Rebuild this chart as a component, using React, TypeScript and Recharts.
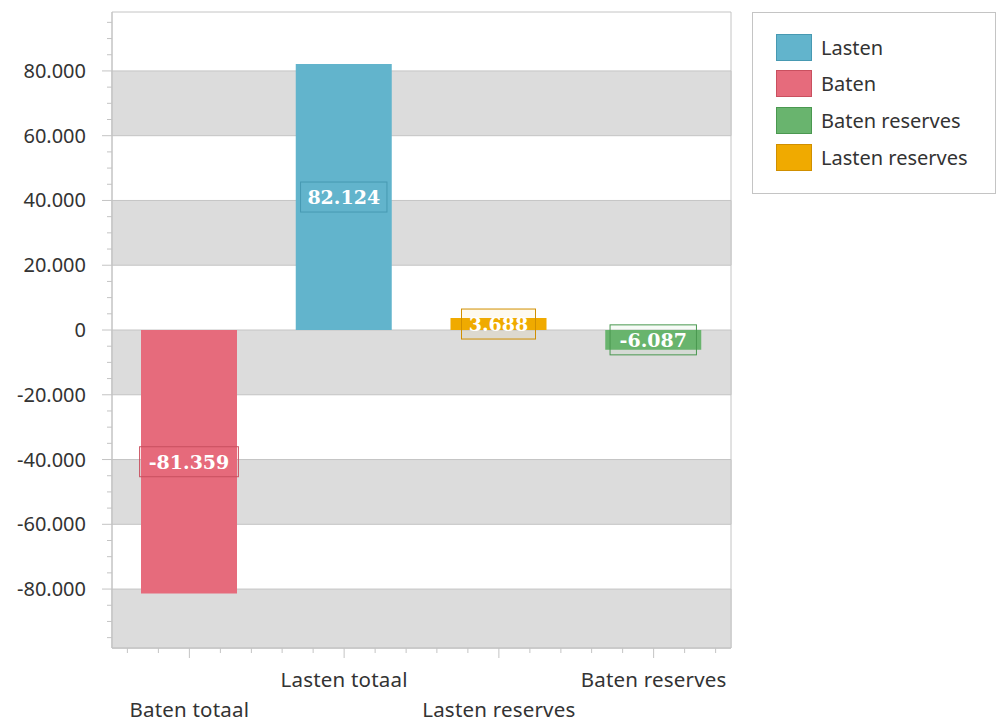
import React from "react";
import { BarChart, Bar, XAxis, YAxis, ReferenceArea, LabelList } from "recharts";

const CATEGORIES = ["Baten totaal", "Lasten totaal", "Lasten reserves", "Baten reserves"];
const LASTEN = [null, 82124, null, null];
const BATEN = [-81359, null, null, null];
const BATEN_RESERVES = [null, null, null, -6087];
const LASTEN_RESERVES = [null, null, 3688, null];

const MAJOR_TICKS = [-80000, -60000, -40000, -20000, 0, 20000, 40000, 60000, 80000];
const GRAY_BANDS = [
  [60000, 80000],
  [20000, 40000],
  [-20000, 0],
  [-60000, -40000],
  [-98200, -80000],
];
const Y_DOMAIN = [-98200, 98200];

const SERIES = [
  { key: "lasten", name: "Lasten", fill: "#62b4cc", stroke: "#4799b2" },
  { key: "baten", name: "Baten", fill: "#e66b7c", stroke: "#c9505f" },
  { key: "batenReserves", name: "Baten reserves", fill: "#69b46e", stroke: "#4a9850" },
  { key: "lastenReserves", name: "Lasten reserves", fill: "#f0aa00", stroke: "#d08f00" },
];

const data = CATEGORIES.map((c, i) => ({
  name: c,
  lasten: LASTEN[i],
  baten: BATEN[i],
  batenReserves: BATEN_RESERVES[i],
  lastenReserves: LASTEN_RESERVES[i],
}));

// minor ticks every 5.000 on the value axis
const yTicks: number[] = [];
for (let v = -95000; v <= 95000; v += 5000) yTicks.push(v);

const FONT = "'Noto Sans', sans-serif";
const TEXT = "#333";
const LINE = "#c4c4c4";

function fmt(v: number) {
  const s = Math.abs(v).toString().replace(/\B(?=(\d{3})+(?!\d))/g, ".");
  return (v < 0 ? "-" : "") + s;
}

function YTick(props: any) {
  const { x, y, payload } = props;
  const major = MAJOR_TICKS.includes(payload.value);
  return (
    <g>
      <line x1={x - (major ? 10 : 5)} x2={x} y1={y} y2={y} stroke={LINE} />
      {major && (
        <text x={x - 26} y={y} dy="0.35em" textAnchor="end" fill={TEXT} fontFamily={FONT} fontSize={20}>
          {fmt(payload.value)}
        </text>
      )}
    </g>
  );
}

const MINOR_STEP = 31;

function XTick(props: any) {
  const { x, y, payload, index } = props;
  const lower = index % 2 === 0;
  return (
    <g>
      {[-2, -1, 1, 2].map((k) => (
        <line key={k} x1={x + k * MINOR_STEP} x2={x + k * MINOR_STEP} y1={y} y2={y + 5} stroke={LINE} />
      ))}
      <line x1={x} x2={x} y1={y} y2={y + 10} stroke={LINE} />
      <text x={x} y={y + (lower ? 62 : 32)} dy="0.35em" textAnchor="middle" fill={TEXT} fontFamily={FONT} fontSize={20.5} letterSpacing={0.2}>
        {payload.value}
      </text>
    </g>
  );
}

function makeLabel(s: (typeof SERIES)[number]) {
  return (props: any) => {
    const { x, y, width, height, value } = props;
    if (value == null || value === 0) return null;
    const cx = x + width / 2;
    const cy = y + height / 2;
    const text = fmt(value);
    const w = text.length * 12.4 + 12;
    const h = 30;
    return (
      <g>
        <rect x={cx - w / 2} y={cy - h / 2} width={w} height={h} fill={s.fill} fillOpacity={0.06} stroke={s.stroke} />
        <text x={cx} y={cy} dy="0.36em" textAnchor="middle" fill="#fff" fontFamily="'DejaVu Serif', serif" fontWeight="bold" fontSize={19}>
          {text}
        </text>
      </g>
    );
  };
}

function LegendBox() {
  return (
    <div
      style={{
        position: "absolute",
        left: 752,
        top: 12,
        width: 244,
        height: 182,
        border: `1px solid ${LINE}`,
        background: "#fff",
        boxSizing: "border-box",
        paddingTop: 16,
      }}
    >
      {SERIES.map((s) => (
        <div key={s.key} style={{ display: "flex", alignItems: "center", height: 36.6, paddingLeft: 23 }}>
          <div
            style={{
              width: 36,
              height: 27,
              background: s.fill,
              border: `1px solid ${s.stroke}`,
              boxSizing: "border-box",
            }}
          />
          <span style={{ marginLeft: 9, fontFamily: FONT, fontSize: 20, color: TEXT }}>{s.name}</span>
        </div>
      ))}
    </div>
  );
}

export default function App() {
  return (
    <div style={{ position: "absolute", left: 0, top: 0, width: 998, height: 724, background: "#fff" }}>
      <BarChart width={998} height={724} data={data} margin={{ top: 12, right: 267, left: 0, bottom: 0 }} barSize={96}>
        <ReferenceArea y1={Y_DOMAIN[0]} y2={Y_DOMAIN[1]} fill="#fff" fillOpacity={1} stroke={LINE} ifOverflow="extendDomain" />
        {GRAY_BANDS.map(([a, b], i) => (
          <ReferenceArea key={i} y1={a} y2={b} fill="#dcdcdc" fillOpacity={1} stroke={LINE} strokeWidth={1} />
        ))}
        <XAxis
          dataKey="name"
          interval={0}
          height={76}
          tickSize={0}
          tickMargin={0}
          tickLine={false}
          axisLine={{ stroke: LINE }}
          tick={<XTick />}
        />
        <YAxis
          type="number"
          domain={Y_DOMAIN}
          ticks={yTicks}
          interval={0}
          width={112}
          tickSize={0}
          tickMargin={0}
          tickLine={false}
          axisLine={{ stroke: LINE }}
          tick={<YTick />}
        />
        {SERIES.map((s) => (
          <Bar key={s.key} dataKey={s.key} name={s.name} stackId="a" fill={s.fill} isAnimationActive={false}>
            <LabelList dataKey={s.key} content={makeLabel(s)} />
          </Bar>
        ))}
      </BarChart>
      <LegendBox />
    </div>
  );
}
